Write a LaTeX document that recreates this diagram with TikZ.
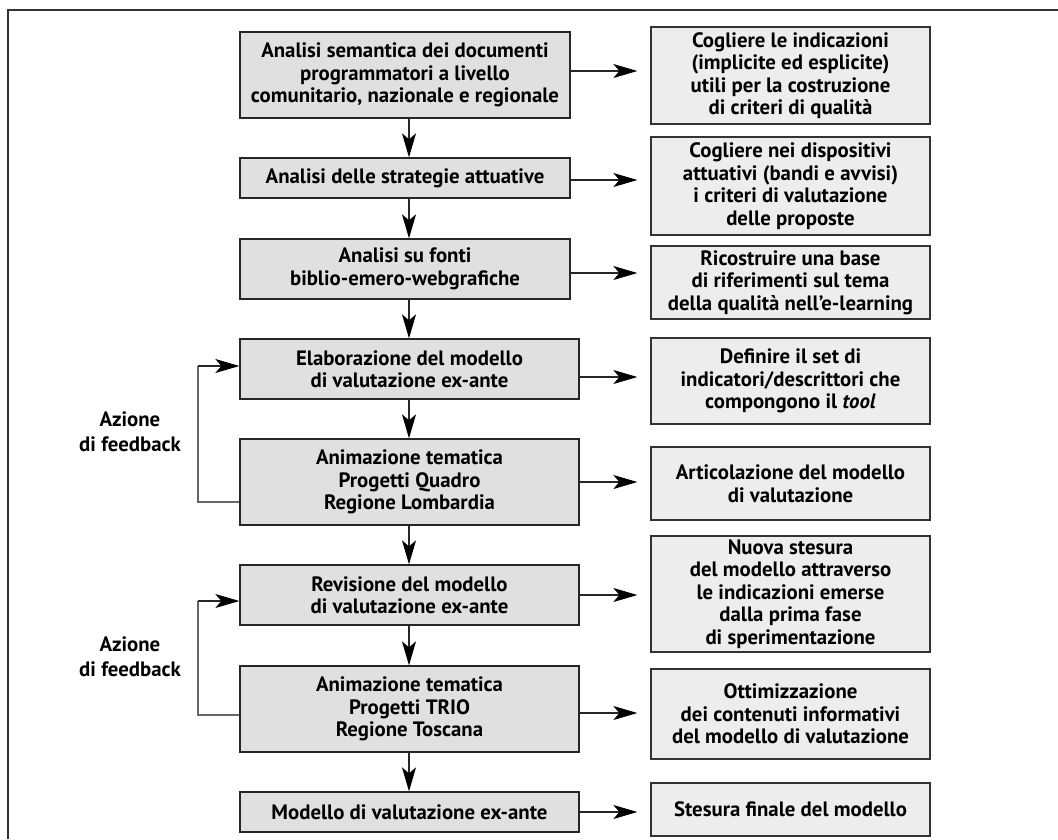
\documentclass[tikz,border=0pt]{standalone}
\usepackage{fontspec}
\setmainfont{PT Sans}
\usetikzlibrary{arrows.meta}
\begin{document}
\begin{tikzpicture}[x=1pt,y=-1pt,
  every node/.style={font=\bfseries\fontsize{20.8}{22.5}\selectfont, align=center, inner sep=0pt},
  lbox/.style={draw=black!85, line width=1.3pt, fill=black!12},
  rbox/.style={draw=black!80, line width=1.3pt, fill=black!7},
  flowarrow/.style={draw=black!85, line width=1.2pt, -{Stealth[length=24pt,width=14pt,inset=6pt,black]}},
  backline/.style={draw=black!60, line width=1.3pt},
  note/.style={font=\bfseries\fontsize{20.8}{25}\selectfont}
]
\useasboundingbox (0,0) rectangle (1058,839);
% partial frame
\draw[black!80, line width=1.3pt] (8,839) -- (8,10) -- (1058,10);

% process steps (left column)
\node[lbox, minimum width=330, minimum height=86] (b1) at (405,75) {Analisi semantica dei documenti\\programmatori a livello\\comunitario, nazionale e regionale};
\node[lbox, minimum width=330, minimum height=40] (b2) at (405,178) {Analisi delle strategie attuative};
\node[lbox, minimum width=330, minimum height=60] (b3) at (405,269) {Analisi su fonti\\biblio-emero-webgrafiche};
\node[lbox, minimum width=339, minimum height=60] (b4) at (409.5,369) {Elaborazione del modello\\di valutazione ex-ante};
\node[lbox, minimum width=339, minimum height=86] (b5) at (409.5,482) {Animazione tematica\\Progetti Quadro\\Regione Lombardia};
\node[lbox, minimum width=339, minimum height=60] (b6) at (409.5,595) {Revisione del modello\\di valutazione ex-ante};
\node[lbox, minimum width=339, minimum height=86] (b7) at (409.5,709) {Animazione tematica\\Progetti TRIO\\Regione Toscana};
\node[lbox, minimum width=339, minimum height=40] (b8) at (409.5,812) {Modello di valutazione ex-ante};

% outcomes (right column)
\node[rbox, minimum width=279, minimum height=97] (r1) at (790.5,75.5) {Cogliere le indicazioni\\(implicite ed esplicite)\\utili per la costruzione\\di criteri di qualità};
\node[rbox, minimum width=279, minimum height=98] (r2) at (790.5,186) {Cogliere nei dispositivi\\attuativi (bandi e avvisi)\\i criteri di valutazione\\delle proposte};
\node[rbox, minimum width=279, minimum height=73] (r3) at (790.5,282.5) {Ricostruire una base\\di riferimenti sul tema\\della qualità nell’e-learning};
\node[rbox, minimum width=279, minimum height=86] (r4) at (790.5,381) {Definire il set di\\indicatori/descrittori che\\compongono il \textit{tool}};
\node[rbox, minimum width=279, minimum height=73] (r5) at (790.5,483.5) {Articolazione del modello\\di valutazione};
\node[rbox, minimum width=279, minimum height=116] (r6) at (790.5,594) {Nuova stesura\\del modello attraverso\\le indicazioni emerse\\dalla prima fase\\di sperimentazione};
\node[rbox, minimum width=279, minimum height=90] (r7) at (790.5,714) {Ottimizzazione\\dei contenuti informativi\\del modello di valutazione};
\node[rbox, minimum width=279, minimum height=53] (r8) at (790.5,809.5) {Stesura finale del modello};

% feedback labels
\node[note] (fb1) at (130,432) {Azione\\di feedback};
\node[note] (fb2) at (130,657) {Azione\\di feedback};

% vertical flow
\foreach \a/\b in {b1/b2,b2/b3,b3/b4,b4/b5,b5/b6,b6/b7,b7/b8}
  \draw[flowarrow] (\a.south -| 409,0) -- (\b.north -| 409,0);

% horizontal flow
\foreach \a/\b/\s in {b1/r1/4,b2/r2/-2,b3/r3/-4,b4/r4/-8,b5/r5/0,b6/r6/0,b7/r7/-4,b8/r8/0}
  \draw[flowarrow, shorten >=13pt] ([yshift=\s pt]\a.east) -- ([yshift=\s pt]\a.east -| \b.west);

% feedback loops
\coordinate (k1) at (198,502);
\coordinate (k2) at (198,366);
\coordinate (k3) at (198,715);
\coordinate (k4) at (198,601);
\draw[backline] (b5.west |- k1) -- (k1) -- (k2);
\draw[flowarrow] (k2) -- (b4.west |- k2);
\draw[backline] (b7.west |- k3) -- (k3) -- (k4);
\draw[flowarrow] (k4) -- (b6.west |- k4);
\end{tikzpicture}
\end{document}
